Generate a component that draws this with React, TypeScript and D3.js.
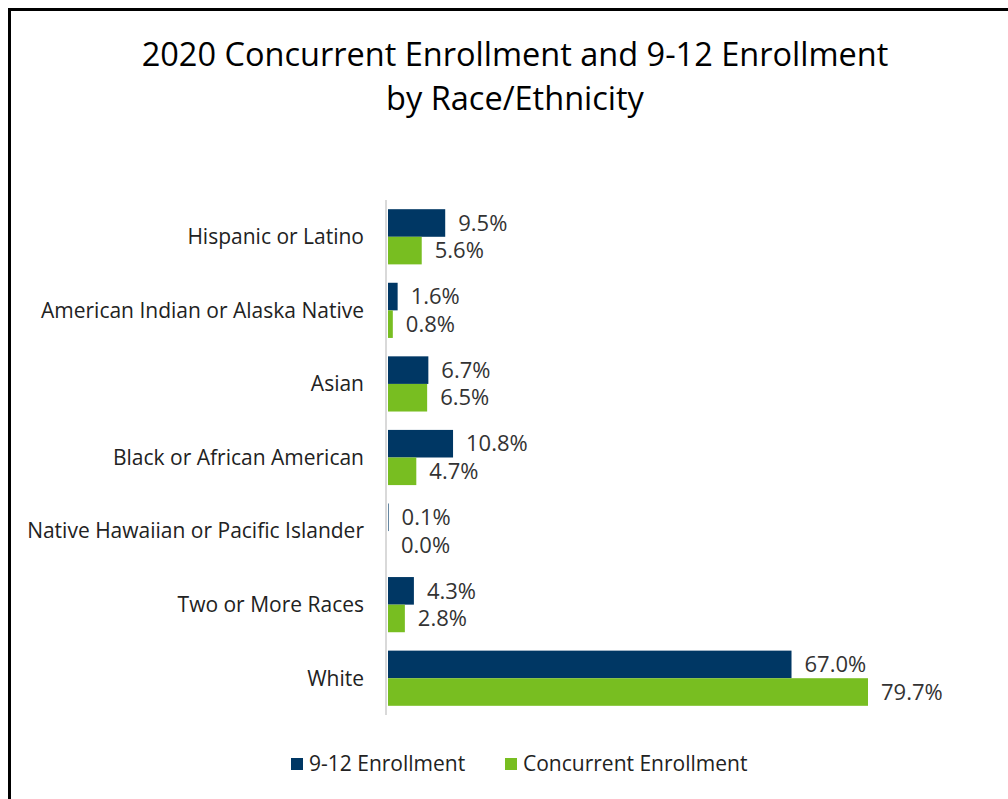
import React from "react";
import * as d3 from "d3";

const categories = [
  "Hispanic or Latino",
  "American Indian or Alaska Native",
  "Asian",
  "Black or African American",
  "Native Hawaiian or Pacific Islander",
  "Two or More Races",
  "White",
];
const enrollment912 = [9.5, 1.6, 6.7, 10.8, 0.1, 4.3, 67.0];
const concurrent = [5.6, 0.8, 6.5, 4.7, 0.0, 2.8, 79.7];
const seriesNames = ["9-12 Enrollment", "Concurrent Enrollment"];
const titleLines = ["2020 Concurrent Enrollment and 9-12 Enrollment", "by Race/Ethnicity"];

const NAVY = "#003764";
const GREEN = "#78BE21";
const FONT = "'Open Sans', 'Noto Sans', sans-serif";

export default function App() {
  const W = 1008, H = 799;
  const x0 = 388;
  const x = d3.scaleLinear().domain([0, 79.7]).range([x0, 868]);
  const y = d3.scaleBand<string>().domain(categories).range([200, 715]).paddingInner(0.25).paddingOuter(0.125);
  const sub = d3.scaleBand<number>().domain([0, 1]).range([0, y.bandwidth()]);
  const series = [enrollment912, concurrent];
  const colors = [NAVY, GREEN];

  return (
    <svg width={W} height={H} style={{ position: "absolute", left: 0, top: 0, background: "#fff" }} fontFamily={FONT}>
      <rect x={0} y={0} width={W} height={H} fill="#fff" />
      <path d={`M9.5,${H} V9.5 H${W}`} fill="none" stroke="#000" strokeWidth={3} />
      {titleLines.map((t, i) => (
        <text key={i} x={515} y={66 + i * 44} textAnchor="middle" fontSize={32.5} fill="#000">{t}</text>
      ))}
      {categories.map((c, ci) => (
        <g key={c}>
          <text x={364} y={(y(c) as number) + y.bandwidth() / 2} dy="0.35em" textAnchor="end" fontSize={21} fill="#222">{c}</text>
          {series.map((s, si) => {
            const by = (y(c) as number) + (sub(si) as number);
            const bh = sub.bandwidth();
            return (
              <g key={si}>
                <rect x={x0} y={by} width={Math.max(0, x(s[ci]) - x0)} height={bh} fill={colors[si]} />
                <text x={x(s[ci]) + 13} y={by + bh / 2} dy="0.35em" fontSize={22} fill="#333">{s[ci].toFixed(1)}%</text>
              </g>
            );
          })}
        </g>
      ))}
      <line x1={386} x2={386} y1={200} y2={715} stroke="#d9d9d9" strokeWidth={2} />
      <g>
        <rect x={291} y={758} width={12} height={12} fill={NAVY} />
        <text x={309} y={764} dy="0.35em" fontSize={21} fill="#222">{seriesNames[0]}</text>
        <rect x={505} y={758} width={12} height={12} fill={GREEN} />
        <text x={523} y={764} dy="0.35em" fontSize={21} fill="#222">{seriesNames[1]}</text>
      </g>
    </svg>
  );
}
